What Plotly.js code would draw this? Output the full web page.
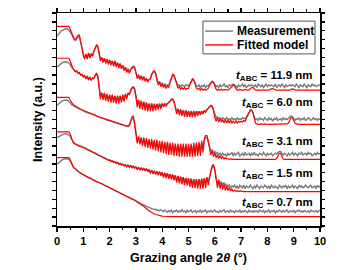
<!DOCTYPE html>
<html><head><meta charset="utf-8">
<script src="https://cdn.plot.ly/plotly-3.0.1.min.js"></script>
<style>html,body{margin:0;padding:0;background:#fff;}#chart{width:341px;height:270px;}</style>
</head><body><div id="chart"></div>
<script>
// Grazing angle 2theta (deg)
const angle = [
0,0.05,0.1,0.15,0.2,0.25,0.3,0.35,0.4,0.45,
0.5,0.55,0.6,0.65,0.7,0.75,0.8,0.85,0.9,0.95,
1,1.05,1.1,1.15,1.2,1.25,1.3,1.35,1.4,1.45,
1.5,1.55,1.6,1.65,1.7,1.75,1.8,1.85,1.9,1.95,
2,2.05,2.1,2.15,2.2,2.25,2.3,2.35,2.4,2.45,
2.5,2.55,2.6,2.65,2.7,2.75,2.8,2.85,2.9,2.95,
3,3.05,3.1,3.15,3.2,3.25,3.3,3.35,3.4,3.45,
3.5,3.55,3.6,3.65,3.7,3.75,3.8,3.85,3.9,3.95,
4,4.05,4.1,4.15,4.2,4.25,4.3,4.35,4.4,4.45,
4.5,4.55,4.6,4.65,4.7,4.75,4.8,4.85,4.9,4.95,
5,5.05,5.1,5.15,5.2,5.25,5.3,5.35,5.4,5.45,
5.5,5.55,5.6,5.65,5.7,5.75,5.8,5.85,5.9,5.95,
6,6.05,6.1,6.15,6.2,6.25,6.3,6.35,6.4,6.45,
6.5,6.55,6.6,6.65,6.7,6.75,6.8,6.85,6.9,6.95,
7,7.05,7.1,7.15,7.2,7.25,7.3,7.35,7.4,7.45,
7.5,7.55,7.6,7.65,7.7,7.75,7.8,7.85,7.9,7.95,
8,8.05,8.1,8.15,8.2,8.25,8.3,8.35,8.4,8.45,
8.5,8.55,8.6,8.65,8.7,8.75,8.8,8.85,8.9,8.95,
9,9.05,9.1,9.15,9.2,9.25,9.3,9.35,9.4,9.45,
9.5,9.55,9.6,9.65,9.7,9.75,9.8,9.85,9.9,9.95,
10];

// Offset log-intensity (a.u.), t_ABC = 11.9 nm
const meas_119 = [
21.4,21.6,21.8,21.95,22.05,22.15,22.2,22.25,22.2,22.1,
21.9,21.6,21.3,21.0,20.9,21.1,21.3,21.3,20.8,20.1,
19.4,19.0,19.3,19.0,19.4,19.1,19.4,19.2,19.6,20.0,
20.3,20.2,19.6,18.8,19.0,18.6,18.9,18.5,18.8,18.4,
18.7,18.3,18.6,18.2,18.6,18.1,18.4,18.0,18.3,17.9,
18.1,17.7,17.9,17.5,17.7,17.4,17.6,17.8,17.9,17.8,
17.3,16.8,17.0,16.7,16.9,16.6,16.8,16.5,16.6,16.4,
16.5,16.6,17.0,17.3,17.4,17.2,16.6,16.1,16.3,15.9,
16.1,15.8,16.0,15.8,15.9,15.9,16.2,16.7,17.0,16.9,
16.5,16.0,15.8,15.9,15.7,15.9,15.8,15.7,15.9,15.8,
15.8,16.0,16.3,16.5,16.4,16.1,15.8,15.7,15.9,15.6,
15.8,15.7,15.9,15.6,15.8,15.8,16.0,16.2,16.3,16.2,
15.9,15.7,15.8,15.6,15.9,15.7,15.8,16.0,15.7,15.8,
15.6,15.9,15.8,15.9,16.0,15.9,15.8,15.6,15.9,15.7,
15.8,16.0,15.7,15.9,15.6,15.8,15.9,15.8,15.9,15.8,
15.7,15.9,15.6,16.0,15.8,15.7,15.9,15.6,15.8,16.0,
15.7,15.9,15.8,15.9,15.8,15.7,16.0,15.6,15.8,15.9,
15.7,16.0,15.8,15.6,15.9,15.7,15.8,15.9,15.8,15.9,
15.8,15.7,16.0,15.8,15.6,15.9,15.8,15.7,16.0,15.8,
15.6,15.9,15.8,15.7,16.0,15.8,15.9,15.7,15.8,15.9,
15.8];
const fit_119 = [
22.5,22.5,22.5,22.5,22.5,22.5,22.5,22.5,22.5,22.5,
22.2,21.8,21.4,21.1,21.0,21.3,21.5,21.5,20.9,20.0,
19.2,18.8,19.4,18.8,19.5,18.9,19.4,19.1,19.7,20.1,
20.4,20.3,19.5,18.6,19.0,18.4,18.9,18.3,18.8,18.2,
18.7,18.1,18.6,18.0,18.6,17.9,18.4,17.8,18.3,17.7,
18.1,17.5,17.9,17.3,17.6,17.2,17.6,17.9,18.0,17.9,
17.3,16.6,17.0,16.5,16.9,16.4,16.8,16.3,16.6,16.2,
16.5,16.6,17.1,17.4,17.5,17.2,16.4,15.9,16.2,15.7,
16.0,15.6,15.9,15.5,15.8,15.6,16.2,16.8,17.1,17.0,
16.5,15.8,15.5,15.7,15.4,15.6,15.4,15.6,15.4,15.5,
15.5,15.9,16.3,16.6,16.5,16.0,15.5,15.4,15.5,15.3,
15.5,15.3,15.4,15.3,15.4,15.5,15.8,16.1,16.3,16.2,
15.8,15.4,15.3,15.4,15.3,15.4,15.3,15.3,15.4,15.3,
15.3,15.4,15.5,15.7,15.9,15.8,15.5,15.3,15.3,15.4,
15.3,15.3,15.3,15.4,15.3,15.3,15.3,15.5,15.6,15.6,
15.4,15.3,15.3,15.3,15.3,15.3,15.3,15.3,15.3,15.3,
15.3,15.3,15.4,15.5,15.5,15.4,15.3,15.3,15.3,15.3,
15.3,15.3,15.3,15.3,15.3,15.3,15.3,15.3,15.4,15.45,
15.4,15.3,15.3,15.3,15.3,15.3,15.3,15.3,15.3,15.3,
15.3,15.3,15.3,15.3,15.3,15.3,15.3,15.3,15.3,15.3,
15.3];

// t_ABC = 6.0 nm
const meas_60 = [
17.9,18.05,18.2,18.3,18.4,18.45,18.5,18.5,18.45,18.35,
18.2,17.9,17.7,17.5,17.4,17.4,17.2,17.2,17.0,17.0,
16.8,16.9,16.6,16.8,16.5,16.7,16.5,16.6,16.6,16.9,
17.1,16.9,15.7,14.7,15.0,14.5,14.9,14.4,14.8,14.3,
14.7,14.2,14.7,14.2,14.6,14.1,14.6,14.1,14.6,14.2,
14.7,14.3,14.8,14.5,14.9,14.8,15.2,15.5,15.6,15.4,
14.7,13.8,14.2,13.6,14.1,13.5,14.0,13.4,13.9,13.4,
13.8,13.3,13.8,13.3,13.7,13.4,13.7,13.4,13.7,13.5,
13.8,13.6,13.8,13.7,13.8,13.9,14.1,14.2,14.3,14.0,
13.4,12.9,13.2,12.9,13.1,12.8,13.0,12.8,13.0,12.7,
12.9,12.7,12.9,12.7,12.9,12.7,12.9,12.8,12.9,12.8,
12.9,12.8,13.0,12.9,13.1,13.3,13.4,13.5,13.4,13.1,
12.5,12.2,12.3,12.1,12.2,12.0,12.2,12.1,12.0,12.2,
12.0,12.1,11.9,12.2,12.0,12.1,11.9,12.2,12.0,12.1,
12.0,12.2,12.1,12.1,12.3,12.5,12.8,13.0,13.0,12.8,
12.3,12.0,12.1,11.9,12.2,12.0,12.1,11.9,12.2,12.0,
11.9,12.2,12.0,12.1,11.8,12.1,12.0,12.2,11.9,12.0,
12.1,11.9,12.2,12.0,12.1,12.0,12.1,12.2,12.4,12.3,
12.1,11.9,12.1,12.0,12.2,11.9,12.1,12.0,12.2,11.9,
12.0,12.2,12.1,11.9,12.0,12.2,12.0,12.1,11.9,12.1,
12.0];
const fit_60 = [
18.9,18.9,18.9,18.9,18.9,18.9,18.9,18.9,18.9,18.9,
18.6,18.1,17.8,17.6,17.4,17.5,17.2,17.3,17.0,17.1,
16.8,17.0,16.6,16.9,16.5,16.8,16.4,16.7,16.6,17.0,
17.2,16.9,15.4,14.3,15.0,14.2,15.0,14.1,14.9,14.0,
14.8,13.9,14.8,13.9,14.7,13.8,14.7,13.8,14.7,13.9,
14.8,14.0,14.9,14.3,15.0,14.8,15.3,15.6,15.7,15.5,
14.6,13.4,14.2,13.2,14.1,13.1,14.0,13.0,13.9,12.9,
13.8,12.9,13.8,12.9,13.8,13.0,13.8,13.1,13.8,13.2,
13.8,13.4,13.7,13.5,13.8,13.9,14.1,14.3,14.3,14.0,
13.2,12.6,13.2,12.5,13.1,12.4,13.0,12.3,13.0,12.3,
12.9,12.3,12.9,12.3,12.9,12.3,12.9,12.4,12.9,12.5,
12.9,12.6,13.0,12.8,13.1,13.3,13.5,13.6,13.5,13.0,
12.2,11.8,12.2,11.7,12.1,11.7,12.0,11.6,12.0,11.6,
11.9,11.6,11.9,11.6,11.8,11.6,11.8,11.6,11.8,11.7,
11.8,11.7,11.9,11.8,12.1,12.4,12.8,13.1,13.1,12.8,
12.1,11.6,11.5,11.45,11.45,11.5,11.45,11.45,11.5,11.45,
11.45,11.45,11.45,11.45,11.45,11.45,11.45,11.45,11.45,11.45,
11.45,11.45,11.45,11.5,11.5,11.5,11.6,11.9,12.2,12.2,
11.9,11.6,11.5,11.45,11.45,11.45,11.45,11.45,11.45,11.45,
11.45,11.45,11.45,11.45,11.45,11.45,11.45,11.45,11.45,11.45,
11.45];

// t_ABC = 3.1 nm
const meas_31 = [
13.6,13.75,13.9,14.0,14.1,14.15,14.2,14.2,14.15,14.05,
13.9,13.7,13.6,13.5,13.4,13.3,13.25,13.2,13.1,13.05,
13.0,12.9,12.85,12.8,12.75,12.7,12.6,12.6,12.5,12.45,
12.4,12.3,12.3,12.2,12.2,12.1,12.1,12.0,11.95,11.9,
11.85,11.8,11.75,11.7,11.65,11.6,11.6,11.5,11.5,11.45,
11.4,11.35,11.3,11.3,11.3,11.4,11.7,12.1,12.2,11.7,
10.6,9.6,10.0,9.4,9.9,9.3,9.8,9.2,9.7,9.1,
9.7,9.0,9.6,8.9,9.5,8.9,9.5,8.8,9.4,8.7,
9.4,8.6,9.3,8.6,9.3,8.5,9.2,8.5,9.2,8.4,
9.1,8.4,9.1,8.3,9.1,8.3,9.0,8.3,9.1,8.2,
9.0,8.2,9.1,8.2,9.1,8.3,9.2,8.3,9.3,8.4,
9.4,8.7,9.7,10.0,10.0,9.5,8.8,8.4,8.6,8.2,
8.4,8.1,8.3,8.0,8.2,7.9,8.2,8.0,8.1,7.9,
8.2,8.0,8.1,8.3,7.9,8.2,8.0,8.1,8.3,7.9,
8.1,8.2,7.9,8.3,8.0,8.1,8.2,7.9,8.2,8.0,
8.3,8.0,8.1,7.9,8.2,8.1,8.0,8.3,8.1,7.9,
8.2,8.0,8.1,8.2,7.9,8.1,8.2,8.1,8.3,8.4,
8.4,8.2,8.0,8.2,8.1,7.9,8.2,8.0,8.1,8.3,
8.0,8.2,8.1,7.9,8.2,8.1,8.3,8.0,8.1,8.2,
8.0,8.3,8.1,8.2,7.9,8.1,8.2,8.0,8.3,8.1,
8.2];
const fit_31 = [
14.5,14.5,14.5,14.5,14.5,14.5,14.5,14.5,14.5,14.5,
14.2,13.9,13.75,13.6,13.5,13.4,13.3,13.2,13.15,13.1,
13.0,12.95,12.9,12.85,12.8,12.7,12.65,12.6,12.55,12.5,
12.4,12.35,12.3,12.25,12.2,12.15,12.1,12.05,12.0,11.9,
11.85,11.8,11.75,11.7,11.65,11.6,11.55,11.5,11.45,11.4,
11.35,11.3,11.25,11.2,11.2,11.3,11.7,12.3,12.4,11.6,
10.4,9.3,10.1,9.2,10.0,9.0,10.0,8.9,9.9,8.8,
9.8,8.7,9.8,8.6,9.7,8.5,9.7,8.4,9.6,8.3,
9.6,8.2,9.5,8.1,9.5,8.0,9.4,8.0,9.4,7.9,
9.3,7.9,9.3,7.8,9.3,7.8,9.3,7.8,9.3,7.8,
9.3,7.8,9.3,7.8,9.4,7.8,9.4,7.9,9.5,7.9,
9.6,8.3,9.8,10.2,10.2,9.6,8.6,8.0,8.5,7.8,
8.2,7.7,8.0,7.6,7.9,7.6,7.8,7.55,7.7,7.55,
7.6,7.5,7.55,7.5,7.5,7.5,7.5,7.5,7.5,7.5,
7.5,7.5,7.5,7.5,7.5,7.5,7.5,7.5,7.5,7.5,
7.5,7.5,7.5,7.5,7.5,7.5,7.5,7.5,7.5,7.5,
7.5,7.5,7.5,7.5,7.5,7.5,7.5,7.6,7.9,8.2,
8.2,7.8,7.55,7.5,7.5,7.5,7.5,7.5,7.5,7.5,
7.5,7.5,7.5,7.5,7.5,7.5,7.5,7.5,7.5,7.5,
7.5,7.5,7.5,7.5,7.5,7.5,7.5,7.5,7.5,7.5,
7.5];

// t_ABC = 1.5 nm
const meas_15 = [
9.95,10.05,10.15,10.25,10.3,10.35,10.4,10.4,10.35,10.25,
10.1,9.8,9.55,9.35,9.25,9.15,9.1,9.05,9.0,8.95,
8.9,8.8,8.75,8.65,8.6,8.5,8.45,8.35,8.3,8.2,
8.15,8.05,8.0,7.9,7.85,7.75,7.7,7.6,7.55,7.45,
7.45,7.35,7.35,7.25,7.25,7.15,7.15,7.05,7.05,6.95,
6.95,6.85,6.9,6.75,6.85,6.7,6.8,6.65,6.75,6.6,
6.65,6.45,6.6,6.4,6.55,6.35,6.5,6.3,6.45,6.25,
6.35,6.05,6.3,6.0,6.2,5.95,6.15,5.9,6.1,5.85,
6.0,5.65,5.95,5.6,5.9,5.55,5.85,5.5,5.8,5.45,
5.7,5.2,5.65,5.15,5.55,5.1,5.5,5.0,5.4,4.95,
5.35,4.85,5.3,4.8,5.25,4.75,5.25,4.75,5.25,4.8,
5.3,4.8,5.35,4.9,5.45,5.0,5.5,6.0,6.6,6.7,
6.3,5.3,4.8,5.2,4.7,5.0,4.6,4.9,4.5,4.7,
4.4,4.6,4.3,4.5,4.4,4.6,4.3,4.5,4.2,4.6,
4.4,4.3,4.6,4.2,4.5,4.4,4.3,4.6,4.4,4.2,
4.5,4.3,4.6,4.4,4.2,4.5,4.4,4.3,4.6,4.4,
4.3,4.5,4.2,4.6,4.4,4.3,4.5,4.4,4.2,4.6,
4.4,4.3,4.5,4.4,4.6,4.2,4.5,4.3,4.4,4.6,
4.3,4.5,4.4,4.2,4.6,4.4,4.5,4.3,4.4,4.6,
4.4,4.3,4.5,4.6,4.3,4.4,4.5,4.2,4.6,4.4,
4.5];
const fit_15 = [
10.6,10.6,10.6,10.6,10.6,10.6,10.6,10.6,10.6,10.6,
10.4,9.8,9.5,9.3,9.2,9.1,9.05,9.0,8.95,8.9,
8.85,8.75,8.7,8.6,8.55,8.45,8.4,8.3,8.25,8.15,
8.1,8.0,7.95,7.85,7.8,7.7,7.65,7.55,7.5,7.4,
7.45,7.25,7.35,7.15,7.25,7.05,7.15,6.95,7.05,6.85,
6.95,6.75,6.9,6.65,6.85,6.6,6.8,6.55,6.75,6.5,
6.65,6.35,6.6,6.3,6.55,6.25,6.5,6.2,6.45,6.1,
6.35,5.9,6.3,5.85,6.2,5.8,6.15,5.7,6.1,5.65,
6.05,5.45,6.0,5.4,5.95,5.3,5.85,5.25,5.8,5.15,
5.7,4.9,5.65,4.8,5.55,4.7,5.5,4.6,5.4,4.55,
5.4,4.4,5.35,4.3,5.3,4.25,5.3,4.2,5.3,4.2,
5.35,4.2,5.4,4.3,5.5,4.6,5.6,6.2,6.8,6.9,
6.4,5.0,4.3,5.2,4.2,4.9,4.1,4.7,4.0,4.5,
4.0,4.3,3.95,4.15,3.9,4.05,3.9,4.0,3.88,3.95,
3.88,3.9,3.87,3.87,3.87,3.87,3.87,3.87,3.87,3.87,
3.87,3.87,3.87,3.87,3.87,3.87,3.87,3.87,3.87,3.87,
3.87,3.87,3.87,3.87,3.87,3.87,3.87,3.87,3.87,3.87,
3.87,3.87,3.87,3.87,3.87,3.87,3.87,3.87,3.87,3.87,
3.87,3.87,3.87,3.87,3.87,3.87,3.87,3.87,3.87,3.87,
3.87,3.87,3.87,3.87,3.87,3.87,3.87,3.87,3.87,3.87,
3.87];

// t_ABC = 0.7 nm
const meas_07 = [
6.95,7.1,7.25,7.35,7.45,7.5,7.55,7.6,7.55,7.5,
7.35,7.0,6.75,6.55,6.4,6.3,6.15,6.05,5.95,5.85,
5.75,5.65,5.6,5.5,5.45,5.4,5.3,5.25,5.15,5.1,
5.0,4.95,4.9,4.8,4.75,4.7,4.6,4.55,4.45,4.4,
4.3,4.25,4.15,4.1,4.0,3.95,3.85,3.8,3.7,3.65,
3.55,3.5,3.4,3.35,3.3,3.2,3.15,3.05,3.0,2.9,
2.85,2.75,2.7,2.6,2.5,2.45,2.35,2.3,2.2,2.15,
2.05,2.0,1.95,1.9,1.85,1.9,1.75,1.8,1.7,1.85,
1.7,1.6,1.8,1.65,1.55,1.75,1.6,1.8,1.5,1.7,
1.65,1.8,1.55,1.7,1.6,1.85,1.6,1.7,1.5,1.75,
1.6,1.7,1.8,1.55,1.65,1.75,1.5,1.7,1.6,1.8,
1.55,1.7,1.65,1.8,1.5,1.7,1.6,1.75,1.55,1.7,
1.8,1.6,1.65,1.5,1.75,1.6,1.7,1.85,1.55,1.65,
1.7,1.55,1.8,1.6,1.7,1.5,1.75,1.65,1.6,1.8,
1.55,1.7,1.6,1.75,1.65,1.5,1.8,1.6,1.7,1.55,
1.75,1.6,1.7,1.55,1.8,1.65,1.6,1.75,1.5,1.7,
1.6,1.8,1.55,1.7,1.65,1.75,1.5,1.7,1.6,1.8,
1.65,1.55,1.75,1.6,1.7,1.8,1.55,1.65,1.7,1.6,
1.75,1.5,1.7,1.65,1.8,1.6,1.7,1.55,1.75,1.65,
1.6,1.7,1.55,1.8,1.65,1.7,1.6,1.75,1.55,1.7,
1.75];
const fit_07 = [
7.7,7.7,7.7,7.7,7.7,7.7,7.7,7.7,7.7,7.7,
7.5,7.0,6.75,6.55,6.4,6.3,6.15,6.05,5.95,5.85,
5.75,5.65,5.6,5.5,5.45,5.4,5.3,5.25,5.15,5.1,
5.0,4.95,4.9,4.8,4.75,4.7,4.6,4.55,4.45,4.4,
4.3,4.25,4.15,4.1,4.0,3.95,3.85,3.8,3.7,3.65,
3.55,3.5,3.4,3.35,3.25,3.2,3.1,3.05,2.95,2.9,
2.8,2.72,2.62,2.52,2.42,2.32,2.2,2.1,1.97,1.85,
1.72,1.6,1.5,1.42,1.35,1.3,1.25,1.21,1.17,1.14,
1.12,1.1,1.08,1.07,1.06,1.05,1.05,1.05,1.05,1.05,
1.05,1.05,1.05,1.05,1.05,1.05,1.05,1.05,1.05,1.05,
1.05,1.05,1.05,1.05,1.05,1.05,1.05,1.05,1.05,1.05,
1.05,1.05,1.05,1.05,1.05,1.05,1.05,1.05,1.05,1.05,
1.05,1.05,1.05,1.05,1.05,1.05,1.05,1.05,1.05,1.05,
1.05,1.05,1.05,1.05,1.05,1.05,1.05,1.05,1.05,1.05,
1.05,1.05,1.05,1.05,1.05,1.05,1.05,1.05,1.05,1.05,
1.05,1.05,1.05,1.05,1.05,1.05,1.05,1.05,1.05,1.05,
1.05,1.05,1.05,1.05,1.05,1.05,1.05,1.05,1.05,1.05,
1.05,1.05,1.05,1.05,1.05,1.05,1.05,1.05,1.05,1.05,
1.05,1.05,1.05,1.05,1.05,1.05,1.05,1.05,1.05,1.05,
1.05,1.05,1.05,1.05,1.05,1.05,1.05,1.05,1.05,1.05,
1.05];

const thickness = ['11.9', '6.0', '3.1', '1.5', '0.7'];
const seriesNames = ['Measurement', 'Fitted model'];
const seriesColors = ['#7a7a7a', '#ff0000'];
const xTickValues = [0, 1, 2, 3, 4, 5, 6, 7, 8, 9, 10];

const measured = [meas_119, meas_60, meas_31, meas_15, meas_07];
const fitted = [fit_119, fit_60, fit_31, fit_15, fit_07];

const FONT = 'Liberation Sans, Arial, sans-serif';
const traces = [];
measured.forEach((m) => traces.push({
  x: angle, y: m, type: 'scatter', mode: 'lines',
  line: {color: seriesColors[0], width: 1.4},
  name: seriesNames[0], showlegend: false
}));
fitted.forEach((f) => traces.push({
  x: angle, y: f, type: 'scatter', mode: 'lines',
  line: {color: seriesColors[1], width: 1.2},
  name: seriesNames[1], showlegend: false
}));

const labelY = [16.9, 13.9, 9.43, 5.83, 2.56];
const annotations = thickness.map((t, k) => ({
  xref: 'paper', yref: 'y', x: 0.981, y: labelY[k],
  xanchor: 'right', yanchor: 'middle', showarrow: false,
  text: '<b><i>t</i><sub>ABC</sub> = ' + t + ' nm</b>',
  font: {family: FONT, size: 11.5, color: '#000'}
}));

// hand-built legend box (paper coordinates)
const legendRowY = [0.915, 0.850];
const shapes = [{
  type: 'rect', xref: 'paper', yref: 'paper',
  x0: 0.555, x1: 0.981, y0: 0.808, y1: 0.962,
  line: {color: '#555', width: 1}, fillcolor: '#fff', layer: 'above'
}];
seriesNames.forEach((n, k) => {
  shapes.push({
    type: 'line', xref: 'paper', yref: 'paper',
    x0: 0.563, x1: 0.669, y0: legendRowY[k], y1: legendRowY[k],
    line: {color: seriesColors[k], width: 1.4}, layer: 'above'
  });
  annotations.push({
    xref: 'paper', yref: 'paper', x: 0.677, y: legendRowY[k],
    xanchor: 'left', yanchor: 'middle', showarrow: false,
    text: '<b>' + n + '</b>',
    font: {family: FONT, size: 12, color: '#000'}
  });
});

const layout = {
  width: 341, height: 270,
  margin: {l: 57, r: 21, t: 13, b: 44},
  paper_bgcolor: '#fff', plot_bgcolor: '#fff',
  showlegend: false,
  xaxis: {
    range: [0, 10], tickmode: 'array', tickvals: xTickValues,
    ticktext: xTickValues.map(v => '<b>' + v + '</b>'),
    showgrid: false, zeroline: false,
    showline: true, linecolor: '#000', linewidth: 1.5, mirror: 'ticks',
    ticks: 'outside', ticklen: 4, tickwidth: 1.3, tickcolor: '#000',
    minor: {dtick: 0.5, ticks: 'outside', ticklen: 2.5, tickwidth: 1.1, tickcolor: '#000'},
    tickfont: {family: FONT, size: 11, color: '#000'},
    title: {text: '<b>Grazing angle 2<i>θ</i> (°)</b>', standoff: 7,
      font: {family: FONT, size: 12.5, color: '#000'}},
    automargin: false
  },
  yaxis: {
    range: [0, 24], dtick: 1, tick0: 0,
    showgrid: false, zeroline: false, showticklabels: false,
    showline: true, linecolor: '#000', linewidth: 1.5, mirror: 'ticks',
    ticks: 'outside', ticklen: 3.5, tickwidth: 1.3, tickcolor: '#000',
    title: {text: '<b>Intensity (a.u.)</b>', standoff: 6,
      font: {family: FONT, size: 12.5, color: '#000'}},
    automargin: false
  },
  shapes: shapes,
  annotations: annotations
};

Plotly.newPlot('chart', traces, layout, {staticPlot: true, displayModeBar: false});
</script>
</body></html>
